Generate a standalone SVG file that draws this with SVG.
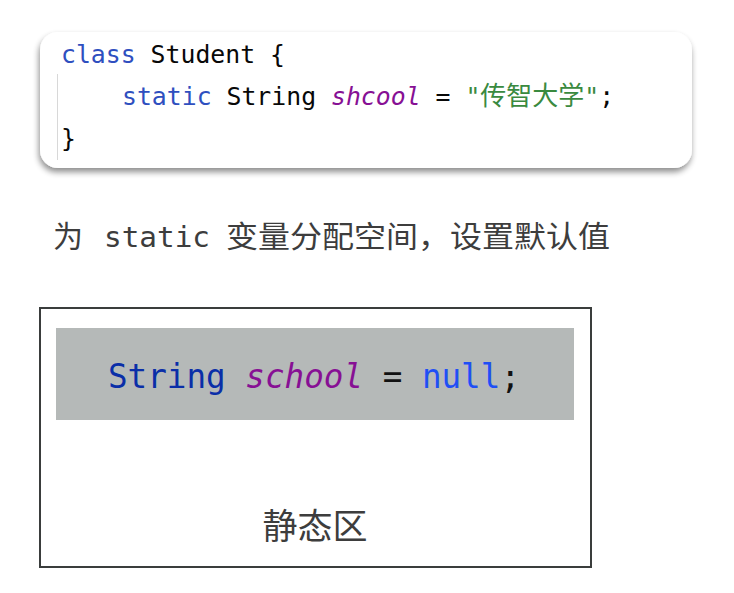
<svg xmlns="http://www.w3.org/2000/svg" width="734" height="593" viewBox="0 0 734 593">
<defs>
<filter id="sh" x="-10%" y="-20%" width="120%" height="150%">
<feGaussianBlur in="SourceAlpha" stdDeviation="3"/>
<feOffset dx="-1" dy="4"/>
<feComponentTransfer><feFuncA type="linear" slope="0.45"/></feComponentTransfer>
<feMerge><feMergeNode/><feMergeNode in="SourceGraphic"/></feMerge>
</filter>
<style>
.code{font-family:"DejaVu Sans Mono","Liberation Mono","Noto Sans CJK SC",monospace;font-size:24.8px;fill:#080808}
.kw{fill:#2f4fbf}
.fld{fill:#871094;font-style:italic}
.str{fill:#3a8a3f}
.cap{font-family:"Noto Sans CJK SC","Noto Sans",sans-serif;font-size:30px;fill:#3d3d3d}
.mono{font-family:"DejaVu Sans Mono","Liberation Mono",monospace}
.big{font-family:"DejaVu Sans Mono","Liberation Mono",monospace;font-size:33px;fill:#111}
</style>
</defs>
<g id="code-card">
<rect x="40" y="32" width="652" height="136" rx="18" fill="#fff" filter="url(#sh)"/>
<line x1="57.5" y1="74" x2="57.5" y2="160" stroke="#d8d8d8" stroke-width="1"/>
<text class="code" x="61" y="63" textLength="224" lengthAdjust="spacingAndGlyphs"><tspan class="kw">class</tspan> Student {</text>
<text class="code" x="122" y="105"><tspan class="kw">static</tspan> String <tspan class="fld">shcool</tspan> = <tspan class="str">"<tspan font-family="Noto Sans CJK SC,sans-serif" font-size="26">传智大学</tspan>"</tspan>;</text>
<text class="code" x="61" y="147">}</text>
</g>
<g id="caption">
<text class="cap" y="247"><tspan x="53">为</tspan><tspan class="mono" x="104" font-size="29" textLength="106" lengthAdjust="spacingAndGlyphs">static</tspan><tspan x="226" textLength="384" lengthAdjust="spacingAndGlyphs">变量分配空间，设置默认值</tspan></text>
</g>
<g id="static-area">
<rect x="40" y="308" width="551" height="259" fill="#fff" stroke="#3a3d3c" stroke-width="2"/>
<rect x="56" y="328" width="518" height="92" fill="#b5b9b8"/>
<text class="big" x="108" y="388" textLength="412" lengthAdjust="spacingAndGlyphs"><tspan fill="#0a2ea8">String</tspan> <tspan fill="#871094" font-style="italic">school</tspan> = <tspan fill="#1f4ff5">null</tspan>;</text>
<text class="cap" x="315" y="539" text-anchor="middle" style="font-size:35px">静态区</text>
</g>
</svg>
